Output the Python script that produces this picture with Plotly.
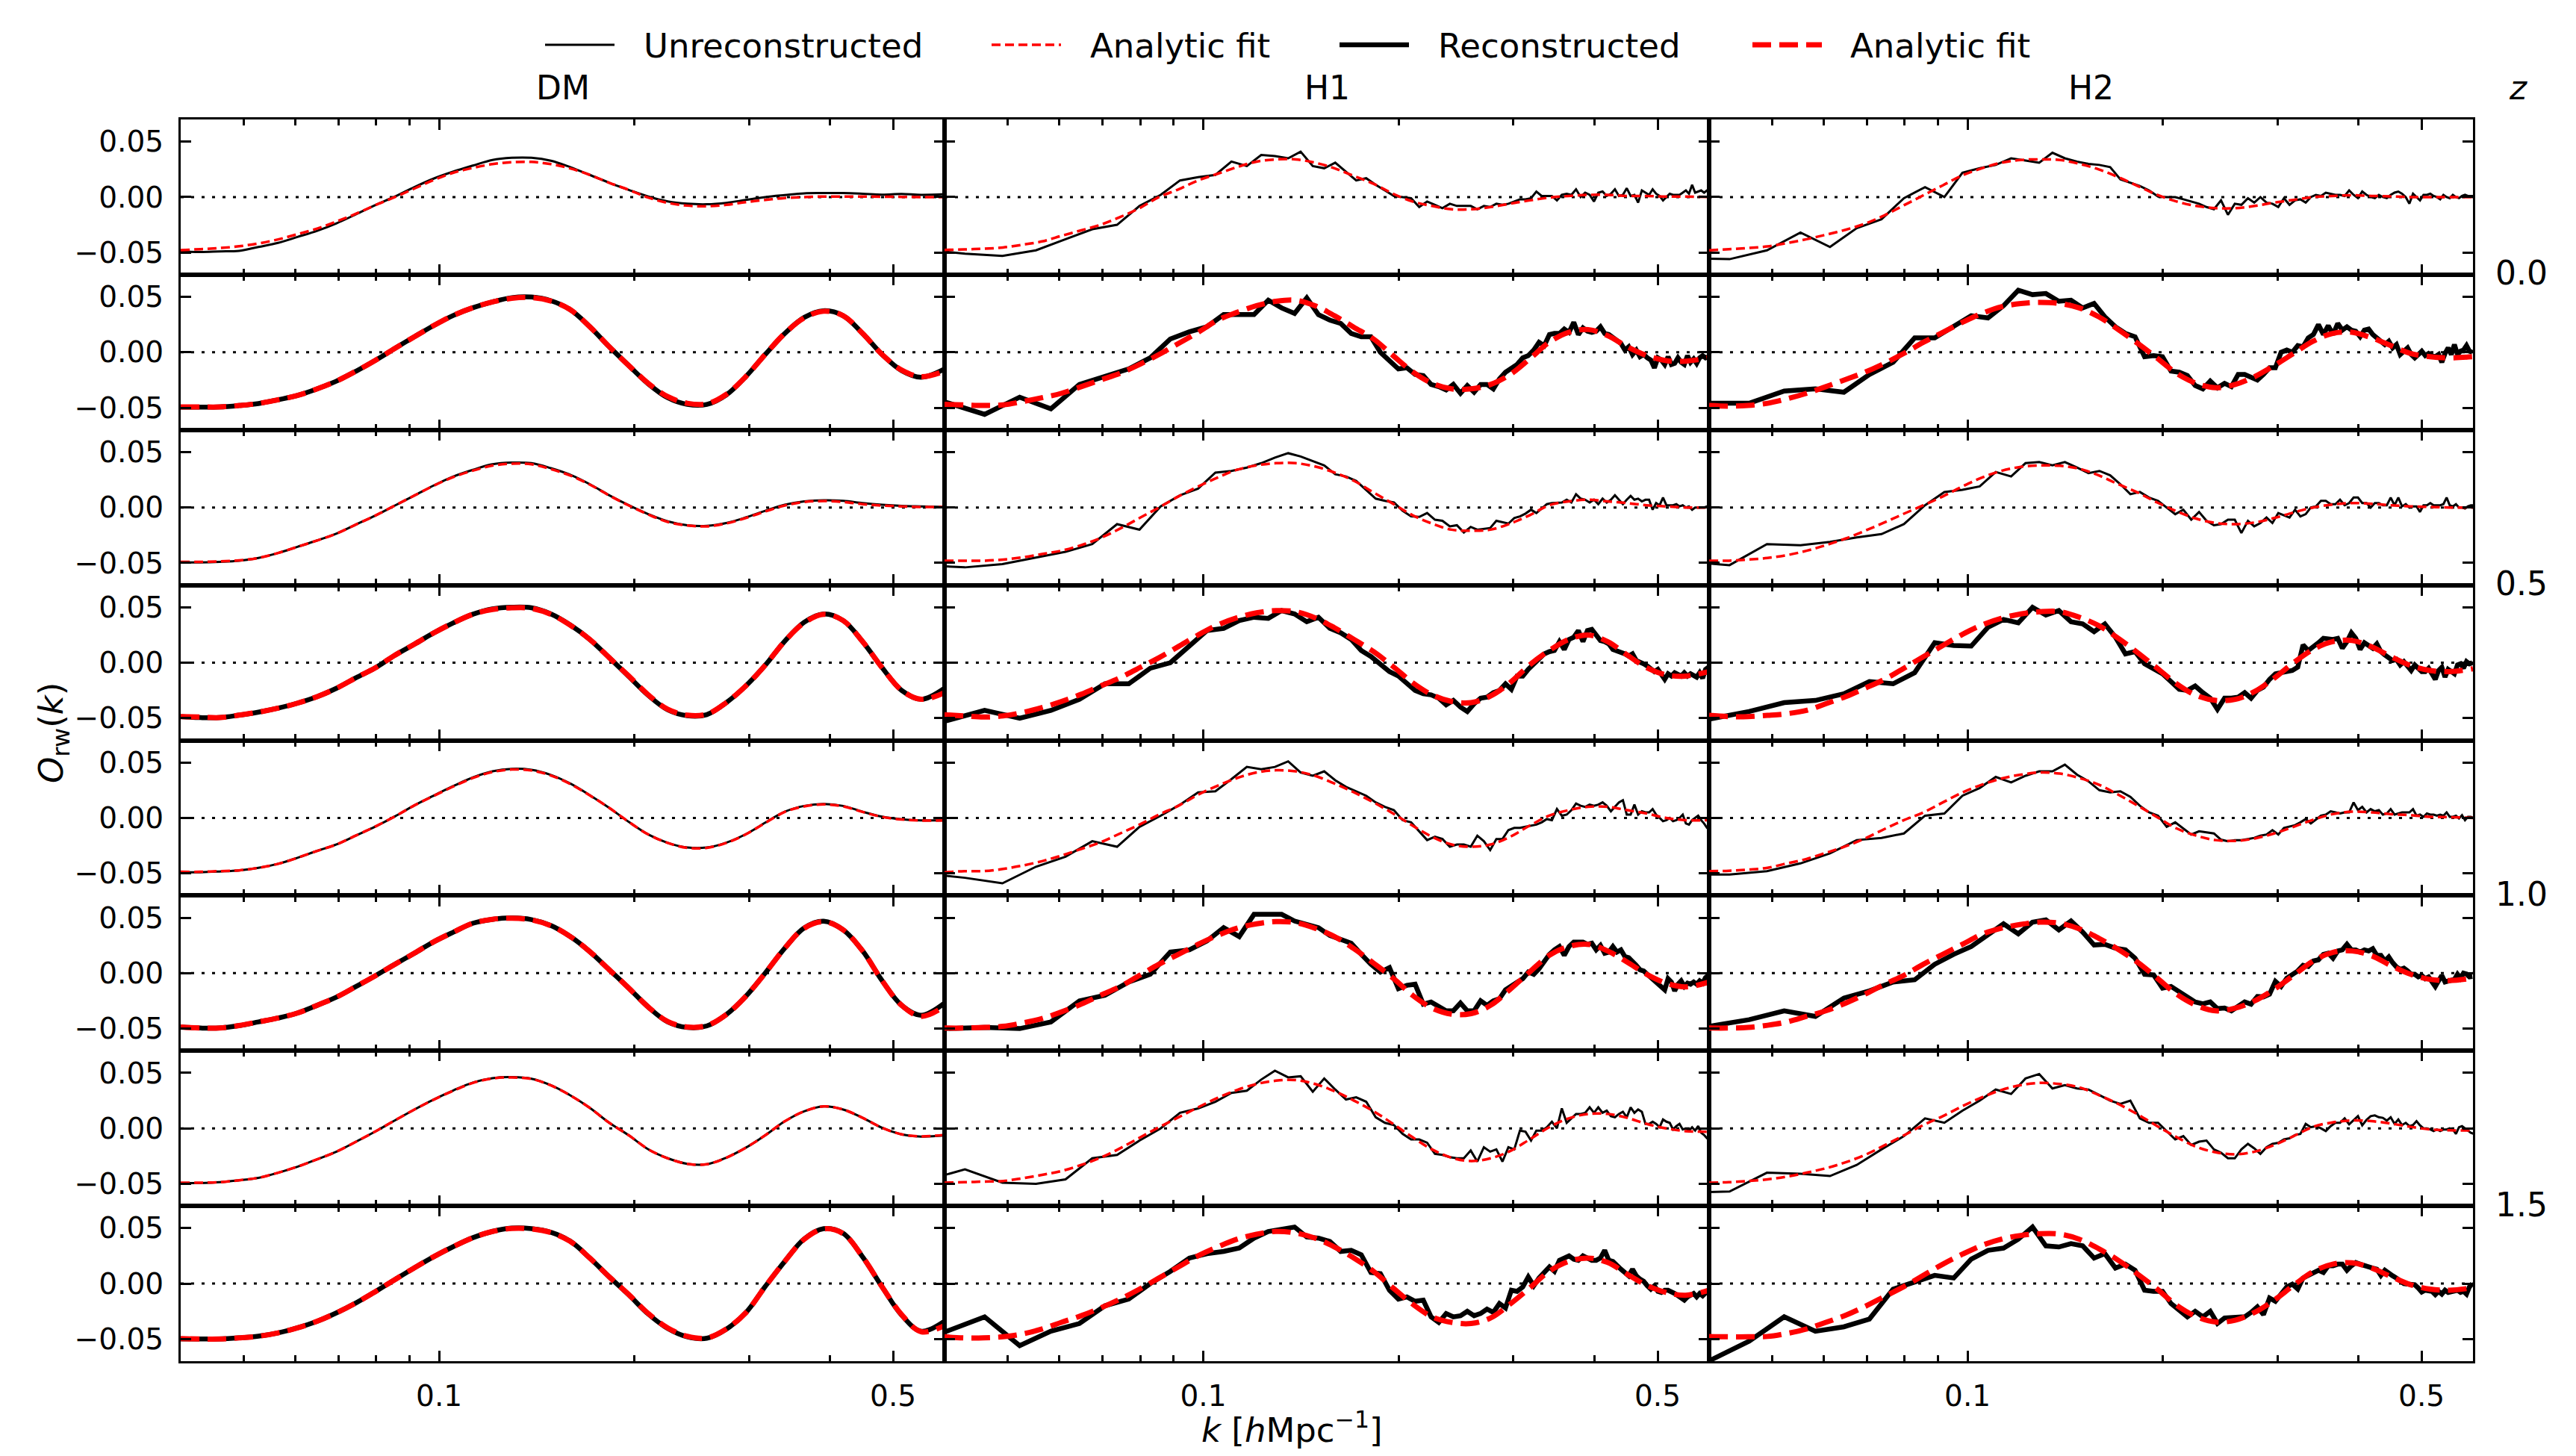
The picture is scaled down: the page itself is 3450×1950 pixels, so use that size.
import plotly.graph_objects as go
from plotly.subplots import make_subplots

# ---------------------------------------------------------------- text / ticks
COLUMNS = ["DM", "H1", "H2"]
Z_LABELS = ["0.0", "0.5", "1.0", "1.5"]
LEGEND_LABELS = ["Unreconstructed", "Analytic fit", "Reconstructed", "Analytic fit"]
X_TICKS = [0.1, 0.5]
X_TICK_TEXT = ["0.1", "0.5"]
X_MINOR = [0.05, 0.06, 0.07, 0.08, 0.09, 0.2, 0.3, 0.4]
Y_TICKS = [-0.05, 0.0, 0.05]
Y_TICK_TEXT = ["\u22120.05", "0.00", "0.05"]
K_RANGE = [0.04, 0.6]
O_RANGE = [-0.07, 0.07]

# ---------------------------------------------------------------- k grids (h/Mpc)
K_FIT = [0.0400, 0.0429, 0.0459, 0.0492, 0.0527, 0.0565, 0.0605, 0.0649, 0.0695, 0.0745,
         0.0798, 0.0855, 0.0916, 0.0982, 0.1052, 0.1127, 0.1208, 0.1294, 0.1387, 0.1486,
         0.1592, 0.1706, 0.1828, 0.1959, 0.2099, 0.2249, 0.2410, 0.2583, 0.2767, 0.2965,
         0.3177, 0.3405, 0.3648, 0.3909, 0.4189, 0.4488, 0.4809, 0.5153, 0.5522, 0.6000]

K_UNREC = [0.0368, 0.0430, 0.0491, 0.0553, 0.0614, 0.0675, 0.0737, 0.0798, 0.0860, 0.0921,
           0.0982, 0.1044, 0.1105, 0.1167, 0.1228, 0.1289, 0.1351, 0.1412, 0.1474, 0.1535,
           0.1596, 0.1658, 0.1719, 0.1781, 0.1842, 0.1903, 0.1965, 0.2026, 0.2088, 0.2149,
           0.2210, 0.2272, 0.2333, 0.2395, 0.2456, 0.2517, 0.2579, 0.2640, 0.2702, 0.2763,
           0.2824, 0.2886, 0.2947, 0.3009, 0.3070, 0.3131, 0.3193, 0.3254, 0.3316, 0.3377,
           0.3438, 0.3500, 0.3561, 0.3623, 0.3684, 0.3745, 0.3807, 0.3868, 0.3930, 0.3991,
           0.4052, 0.4114, 0.4175, 0.4237, 0.4298, 0.4359, 0.4421, 0.4482, 0.4544, 0.4605,
           0.4666, 0.4728, 0.4789, 0.4851, 0.4912, 0.4973, 0.5035, 0.5096, 0.5158, 0.5219,
           0.5280, 0.5342, 0.5403, 0.5465, 0.5526, 0.5587, 0.5649, 0.5710, 0.5772, 0.5833,
           0.5894, 0.5956, 0.6017]

K_REC = [0.0399, 0.0461, 0.0522, 0.0583, 0.0645, 0.0706, 0.0768, 0.0829, 0.0890, 0.0952,
         0.1013, 0.1075, 0.1136, 0.1197, 0.1259, 0.1320, 0.1382, 0.1443, 0.1504, 0.1566,
         0.1627, 0.1689, 0.1750, 0.1811, 0.1873, 0.1934, 0.1996, 0.2057, 0.2118, 0.2180,
         0.2241, 0.2303, 0.2364, 0.2425, 0.2487, 0.2548, 0.2610, 0.2671, 0.2732, 0.2794,
         0.2855, 0.2917, 0.2978, 0.3039, 0.3101, 0.3162, 0.3224, 0.3285, 0.3346, 0.3408,
         0.3469, 0.3531, 0.3592, 0.3653, 0.3715, 0.3776, 0.3838, 0.3899, 0.3960, 0.4022,
         0.4083, 0.4145, 0.4206, 0.4267, 0.4329, 0.4390, 0.4452, 0.4513, 0.4574, 0.4636,
         0.4697, 0.4759, 0.4820, 0.4881, 0.4943, 0.5004, 0.5066, 0.5127, 0.5188, 0.5250,
         0.5311, 0.5373, 0.5434, 0.5495, 0.5557, 0.5618, 0.5680, 0.5741, 0.5802, 0.5864,
         0.5925, 0.5987]

# ---------------------------------------------------------------- O_rw(k), in units of 1e-3
# ---- DM (sampled on K_FIT)
DM_Z0_UNREC = [-49, -49.5, -49, -48.5, -45, -41.3, -36, -30.4, -23.7, -15.5,
               -7.2, 0.5, 9, 16.8, 23, 28.4, 33.5, 35.4, 35.4, 32.8,
               27, 20, 12.9, 6.5, 0.5, -3.9, -6, -6.5, -5.2, -2.6,
               0, 1.8, 3.4, 3.6, 3.6, 3.0, 2.2, 2.8, 2.0, 2.6]
DM_Z0_UNREC_FIT = [-47.8, -47, -46, -44.4, -41.8, -38.2, -33.5, -28.4, -22, -15,
                   -7.2, 0, 7.7, 15.5, 22, 26.3, 29.7, 31.5, 31.7, 29.7,
                   25.8, 20, 12.9, 6.5, -0.5, -5.2, -7.7, -8.3, -7, -4.6,
                   -2.6, -0.8, 0, 0.5, 0.5, 0.5, 0.3, 0.2, 0, 0]
DM_Z0_REC = [-49.5, -49.5, -49.3, -48, -46.2, -42.8, -39, -33, -26, -17,
             -7.2, 3.6, 14, 24.3, 33.3, 40.2, 45.4, 49.3, 49.8, 46.5,
             38.4, 23, 5, -12, -28.5, -41, -47, -47, -38.5, -22,
             -2, 17, 31.5, 37.5, 33, 17, -2, -16.5, -22.5, -15]
DM_Z0_REC_FIT = [-49.3, -49.3, -49.3, -48, -46.2, -42.8, -39, -33, -26, -17,
                 -7.2, 3.6, 14, 24.3, 33.3, 40.2, 45.4, 48.7, 49.3, 46.2,
                 38.4, 23, 5, -12, -28, -40, -46, -46.5, -38, -22,
                 -2, 17, 31, 37, 33, 17, -2, -16, -22, -17]
DM_Z05_UNREC = [-49.5, -49.5, -49, -48, -45.5, -41, -35.5, -29.7, -23.5, -15.3,
                -7.2, 1.8, 10.8, 20, 28, 34, 39, 40.5, 40, 35.5,
                29.5, 21, 11, 2, -6, -12.5, -16, -16.5, -14, -9,
                -3, 2.5, 5.5, 6.5, 6, 4, 2.5, 1.5, 1, 0.5]
DM_Z05_UNREC_FIT = [-49, -49, -48.6, -47.7, -45.5, -41, -35.5, -29.7, -23.5, -15.3,
                    -7.2, 1.8, 10.8, 19.8, 27.5, 33.3, 37.8, 39.6, 39, 34.6,
                    28.8, 20.7, 10.8, 1.8, -6.3, -13, -16.2, -17, -14.4, -9.5,
                    -3.6, 1.8, 5, 5.8, 5, 3, 1.8, 1, 0.5, 0.5]
DM_Z05_REC = [-48.6, -49.5, -49.5, -47.3, -44.6, -41, -36.5, -30.6, -23, -13.5,
              -4.5, 6.8, 16.7, 27, 36, 43.7, 48.5, 50, 49.5, 44,
              34, 21, 4.5, -12.5, -29.5, -42.5, -47.8, -46.8, -36, -21,
              -2.3, 19.4, 36.5, 44, 38, 19, -4.5, -25, -33, -23]
DM_Z05_REC_FIT = [-48.6, -49, -49.5, -47.3, -44.6, -41, -36.5, -30.6, -23, -13.5,
                  -4.5, 6.8, 16.7, 27, 36, 43.7, 48, 49.5, 49, 43.7,
                  33.8, 21, 4.5, -12, -29, -42, -47.3, -46.4, -36, -21,
                  -2.3, 19.4, 36, 43.7, 38, 19, -4.5, -24.8, -33, -27]
DM_Z1_UNREC = [-49, -49, -48.3, -47.3, -45, -41.4, -36, -29.7, -23.9, -15.8,
               -7.7, 1.4, 11.3, 20.3, 28.8, 36.5, 42, 44.3, 43.4, 38.8,
               31, 20.5, 9, -3.6, -14.9, -22.5, -26.7, -26.7, -22.3, -14.7,
               -4.3, 5.6, 10.8, 12.6, 10.8, 5.6, 1.1, -1.2, -2.2, -2.2]
DM_Z1_UNREC_FIT = [-48.6, -48.6, -48, -47.3, -45, -41.4, -36, -29.7, -23.9, -15.8,
                   -7.7, 1.4, 11.3, 20, 28.4, 36, 41.4, 43.7, 42.8, 38.3,
                   30.6, 20.3, 9, -3.6, -14.9, -22.5, -27, -27, -22.5, -14.9,
                   -4.5, 5.4, 10.4, 12.2, 10.4, 5.4, 0.9, -1.4, -2.3, -2.3]
DM_Z1_REC = [-48.6, -49.5, -49.5, -47.3, -44, -40.5, -36, -29, -21.6, -12,
             -2.3, 8, 18, 28.4, 37, 45, 48.6, 49.8, 48.3, 43,
             33, 19.4, 3, -13.5, -30.6, -44, -49, -47.6, -37.4, -21,
             0, 22.5, 40.8, 46.8, 39, 20, -6.8, -29, -38, -27]
DM_Z1_REC_FIT = [-48.6, -49.5, -49.5, -47.3, -44, -40.5, -36, -29, -21.6, -12,
                 -2.3, 8, 18, 28.4, 37, 45, 48.6, 49.5, 48, 42.8,
                 33, 19.4, 3, -13.5, -30.6, -43.7, -48.6, -47.3, -37.4, -21,
                 0, 22.5, 40.5, 46.4, 39, 20, -6.8, -29, -39, -30]
DM_Z15_UNREC = [-49.3, -49.3, -48.6, -46.8, -44.6, -40, -34.6, -27.9, -21, -12,
                -2.7, 7.2, 17, 26.2, 34.3, 41.3, 45.3, 46.2, 44.8, 38.9,
                29.8, 18.5, 5, -6.3, -18.9, -27, -32, -32.4, -26.5, -17.5,
                -6.3, 6.3, 15.3, 19.8, 17, 9.5, 0.5, -5.4, -7.4, -6.5]
DM_Z15_UNREC_FIT = [-49, -49, -48.6, -46.8, -44.6, -40, -34.6, -27.9, -21, -12,
                    -2.7, 7.2, 17, 26, 34, 41, 45, 45.9, 44.6, 38.7,
                    29.7, 18.5, 5, -6.3, -18.9, -27, -32, -32.4, -26.5, -17.5,
                    -6.3, 6.3, 15.3, 19.8, 17, 9.5, 0.5, -5.4, -7.2, -5.8]
DM_Z15_REC = [-50, -50, -50, -49, -47.5, -44.5, -40, -34, -26.4, -17.4,
              -7.2, 3.6, 14.2, 24.4, 33.4, 41.4, 47, 50, 49.6, 46.3,
              38.2, 23, 6, -10.2, -27.5, -40.5, -48, -49.3, -41.2, -26.4,
              -2.7, 20, 40.3, 49.6, 45.3, 24, -3, -28.5, -43, -34]
DM_Z15_REC_FIT = [-49.7, -50, -50, -49, -47.5, -44.5, -40, -34, -26.4, -17.4,
                  -7.2, 3.6, 14.2, 24.4, 33.4, 41.4, 47, 49.7, 49.3, 46,
                  38, 23, 6, -10, -27, -40, -47.5, -49, -41, -26.4,
                  -2.7, 20, 40, 49.3, 45, 24, -3, -28, -43.4, -38]

# ---- H1 (simulation on K_UNREC / K_REC, fits on K_FIT)
H1_Z0_UNREC = [-47, -51, -53, -48, -38, -29, -25, -8, 2, 15,
               18, 20, 32, 28, 38, 37, 35, 41, 28, 26,
               31, 23, 15, 17, 11, 6, 1, 0, -1, -9,
               -4, -7, -10, -6, -8, -8, -8, -11, -8, -9,
               -6, -7, -6, -4, -2, -2, -1, 5, 1, 1,
               1, -3, 2, 3, 2, 7, 0, 4, 2, -4,
               4, 5, 1, 3, 7, 1, 2, 8, 1, 2,
               -5, 6, 4, 2, 7, 3, 1, -3, 0, 3,
               2, 2, 2, 4, 6, 3, 11, 4, 5, 6,
               4, 6, 5]
H1_Z0_UNREC_FIT = [-47.7, -47.2, -46.6, -45.5, -43, -40, -35, -30, -25, -18,
                   -10, 0, 7, 15, 21, 27, 32, 34, 34, 31,
                   26, 19, 12, 3, -4, -8, -11, -11, -9, -6,
                   -3, -0.5, 1, 2, 2, 1, 1, 0.5, 0.5, 0]
H1_Z0_REC = [-44.5, -56, -40.5, -51, -29, -22, -15, -5, 12, 18.5,
             23, 34, 34, 34, 47, 40, 35, 49, 34, 29,
             26, 17, 14, 14, 0, -7, -15, -14, -20, -21,
             -29, -31, -34, -29, -37, -30, -36, -29, -29, -33,
             -24, -18, -14, -11, -5, -3, 2, 9, 6, 16,
             17, 17, 21, 18, 27, 16, 22, 19, 18, 19,
             23, 17, 16, 13, 11, 8, 2, 5, -2, 2,
             -4, -2, -5, -7, -14, -5, -7, -11, -4, -11,
             -10, -5, -9, -11, -3, -9, -6, -10, -5, -3,
             -5, -4]
H1_Z0_REC_FIT = [-47, -47.5, -48, -47.5, -44.5, -41, -37, -31, -25, -19,
                 -11, -2, 8, 18, 29, 36, 42, 46, 47, 42,
                 33, 22.5, 12, -3, -17.5, -28, -33, -33, -29, -20,
                 -6, 9, 18, 20.5, 15, 5, -3, -7.5, -8, -5]
H1_Z05_UNREC = [-52, -54, -51, -45, -40, -33, -15, -20, 1, 11,
                17, 31.5, 33, 36, 40, 45, 49, 46, 42, 38,
                30, 28, 24, 16, 8, 6, 4.5, -3, -8, -8.5,
                -5, -11, -12, -17, -16, -22.5, -17.5, -20, -19, -18.5,
                -12, -13.5, -14.5, -9.5, -8, -5.5, -2, -5, -1, 3,
                4, 4, 4.5, 7, 4.5, 12, 8, 7, 4.5, 7,
                3, 8, 4.5, 7, 11, 7, 3, 7, 10.5, 7,
                8, 5.5, 7, 7, -2, 4, 2, 9, 2, 2,
                2, 3, 1, 2, 0, 1, -2, 0, 0, 0,
                0, 1, 1]
H1_Z05_UNREC_FIT = [-48, -48, -48, -47, -45, -42, -39, -34, -27.5, -19,
                    -9.5, 0, 10, 19, 27, 34, 38, 40, 40, 37,
                    31.5, 24, 13.5, 3.4, -7, -14.5, -20, -21, -20, -14.5,
                    -7, 2, 5.5, 7, 5.5, 4, 2, 1, 0, 0]
H1_Z05_REC = [-53, -43, -50, -43, -33, -19, -19, -5, 0, 14.6,
              29, 31, 38, 41, 40, 47, 44, 37, 41, 31,
              27, 21, 11, 5.6, -1, -8, -12, -18, -25, -28,
              -29, -32, -38, -34, -40, -44, -37, -32, -31, -27,
              -25, -19, -24, -12, -12, -6, -1, 3, 8, 10,
              11, 19, 12, 21, 23, 29, 19, 29, 30, 25,
              20, 19, 17, 12, 11, 9, 8, 6, 8, 2,
              1, -1, -3, -5, -8, -6, -11, -15, -10, -12,
              -9, -11, -12, -9, -12, -10, -11, -13, -9, -14,
              -6, -4]
H1_Z05_REC_FIT = [-47, -48, -49, -48, -45, -40.5, -35, -28.5, -21, -13.5,
                  -4.5, 4.5, 14.6, 25, 34, 40.5, 45, 47, 46, 40.5,
                  31.5, 21, 10, -3.4, -18, -29, -35, -36, -30, -18,
                  -2, 11, 21, 25, 19, 7, -4.5, -11, -12, -8]
H1_Z1_UNREC = [-50, -54, -59, -44, -35, -21, -26, -8, 2, 12,
               23, 24, 35, 46, 44, 46, 51, 41, 38, 42,
               34, 28, 24, 20, 14, 10, 7, -2, -4, -12,
               -20, -17, -19, -26, -24, -24, -26, -16, -21, -29,
               -19, -19, -11, -9, -9, -8, -7, -6, -4, -1,
               -2, 8, 2, 3, 7, 13, 11, 10, 12, 11,
               12, 14, 11, 6, 10, 14, 16, 3, 3, 12,
               3, 6, 5, 5, 8, 3, 0, -3, -2, 0,
               -3, -2, 0, 3, -5, -6, -2, 0, 2, -2,
               -5, -9, -9]
H1_Z1_UNREC_FIT = [-49, -48, -48, -46, -43, -39, -34, -28, -22, -14,
                   -6, 3, 11, 21, 29, 36, 41, 43, 42, 38,
                   31, 23, 14, 4, -7, -17, -24, -26, -24, -17,
                   -7, 2, 7, 10, 10, 7, 4, 0, -2, -2]
H1_Z1_REC = [-50, -49, -50, -44, -25, -20, -8, -1, 19, 21,
             29, 41, 33, 53, 53, 53, 47, 44, 41, 34,
             30, 27, 17, 8, 1, 5, -14, -11, -10, -28,
             -26, -30, -34, -34, -27, -34, -34, -25, -29, -25,
             -23, -15, -12, -9, -5, 1, -1, 4, 11, 17,
             21, 24, 16, 24, 28, 28, 28, 26, 27, 21,
             25, 18, 19, 24, 19, 21, 15, 14, 11, 7,
             3, 2, -1, -4, -7, -10, -12, -15, -5, -8,
             -16, -10, -7, -12, -9, -10, -8, -10, -7, -9,
             -4, -2]
H1_Z1_REC_FIT = [-49.5, -49.5, -49, -48, -45, -41, -35, -28, -20, -12,
                 -2, 8, 17, 26, 34, 40.5, 44.5, 46.5, 45.5, 40.5,
                 33, 22, 9, -4.5, -20, -31.5, -37, -36.5, -29, -14.6,
                 1, 16, 24, 26, 20, 10, -1, -9, -12.4, -8]
H1_Z15_UNREC = [-48, -37, -49, -50, -46, -27, -24, -11, 0, 14,
                18, 24, 32, 34, 44, 52, 46, 47, 33, 45,
                35, 26, 28, 24, 10, 5, 3, -5, -10, -10,
                -13, -23, -24, -26, -27, -27, -20, -30, -17, -21,
                -19, -30, -17, -19, -2, -3, -11, -2, -2, 1,
                6, 0, 18, 5, 9, 13, 13, 14, 19, 14,
                19, 14, 16, 11, 10, 13, 15, 10, 19, 14,
                17, 15, 4, 4, 6, 4, 1, 8, 6, 5,
                -1, 2, 4, -1, 0, -2, 1, -2, 2, -4,
                -6, -9, -9]
H1_Z15_UNREC_FIT = [-49, -48.6, -48, -47.5, -45, -42, -38.5, -33, -26.5, -18,
                    -8.5, 1, 10, 19, 27.5, 34.6, 40, 43, 43.6, 40,
                    33.5, 25, 15.5, 4, -8, -19, -26.5, -29.5, -27, -20.5,
                    -10, 1, 9, 13, 13, 9.5, 4, 0, -2.5, -3]
H1_Z15_REC = [-44, -30, -56, -43, -36, -20, -14, 0, 11, 23,
              27, 29, 32, 41, 47, 49, 51, 42, 41, 38,
              29, 30, 26, 10, 9, -6, -14, -12, -16, -15,
              -30, -35, -27, -30, -29, -25, -29, -27, -23, -26,
              -18, -22, -6, -7, -3, 6, -2, 5, 10, 15,
              11, 21, 23, 25, 22, 21, 25, 23, 21, 21,
              23, 30, 21, 20, 16, 13, 10, 7, 13, 7,
              4, 2, -2, -5, -2, -7, -8, -6, -6, -7,
              -9, -11, -13, -15, -12, -11, -9, -12, -9, -11,
              -8, -6]
H1_Z15_REC_FIT = [-48, -49, -49, -48, -45.5, -41, -35, -29, -22, -14,
                  -5, 5, 15, 25, 33, 40, 44.5, 47, 45.6, 41,
                  33, 23, 11, -4, -18.5, -30, -35, -36, -31, -18.5,
                  -4, 11, 20, 23, 19, 8.5, -1.5, -8, -10.5, -6]

# ---- H2
H2_Z0_UNREC = [-55, -56, -48, -32, -45, -28, -20, -1, 9, 0,
               22, 26, 29, 35, 33, 31, 40, 35, 32, 30,
               29, 27, 16, 13, 10, 6, 0.5, 0, 0, -2,
               -4, -6, -9, -11, -3, -16, -6, -7, -1, -5,
               0, -5, -6, -9, -1, -7, -3, -2, -5, 0,
               2, 1, 4, 3, 2, 2, 1, 6, 2, -1,
               5, 2, 0, -1, 2, 0, -1, 2, 4, 5,
               3, 0, -6, 3, 0, -3, 2, 2, 3, 1,
               0, -2, 2, 0, -1, 2, 0, -1, 1, 2,
               1, 1, 1]
H2_Z0_UNREC_FIT = [-48, -47, -46, -44.5, -41.5, -38, -34, -29.5, -24, -16.4,
                   -7.4, 1.6, 10.6, 19.6, 26, 31, 33.5, 34, 33.5, 30,
                   25, 18, 10, 2, -4, -8, -10, -10, -8, -5,
                   -2.5, 0, 1, 1.6, 1, 0.7, 0, 0, 0, 0]
H2_Z0_REC = [-46, -46, -35, -33, -36, -20, -9, 13, 13, 23,
             33, 31, 42, 56, 52, 53, 46, 47, 40, 44,
             32, 23, 17, 14, -4, -3, -4, -17, -18, -21,
             -30, -33, -26, -32, -28, -31, -20, -20, -23, -25,
             -20, -14, -14, 0, 2, 0, 6, 5, 13, 16,
             25, 16, 24, 16, 26, 20, 23, 20, 19, 14,
             20, 21, 16, 13, 9, 7, 10, 4, 7, -2,
             1, 4, -2, -5, -2, 1, -3, -1, -3, -4,
             -2, -9, -1, 4, -2, 7, -2, 1, 2, 6,
             1, 0]
H2_Z0_REC_FIT = [-48, -48.6, -48, -46, -42, -37, -31, -24.5, -18, -10,
                 -1, 9, 18, 27, 35, 41, 44, 45, 44, 40,
                 32, 20.5, 8, -5.4, -19, -28, -32, -29, -22, -12,
                 -1, 10, 17, 18, 13, 6, -1, -4, -5, -4]
H2_Z05_UNREC = [-49, -52, -33, -34, -31, -27, -24, -15, 2, 14,
                16, 19, 32, 28, 40, 41, 38, 41, 36, 31,
                33, 29, 21, 12, 14, 9, 6, 0, -6, -2,
                -11, -4, -12, -16, -15, -11, -11, -23, -12, -17,
                -14, -9, -14, -5, -7, -9, -2, -8, -6, 0,
                1, 6, 6, 3, 3, 7, 2, 4, 9, 9,
                4, 4, 0, 4, 4, 2, 2, 9, 2, 9,
                1, 3, 0, 1, 1, -4, 2, 2, 4, 2,
                2, 2, 3, 9, 2, 1, 3, 0, 0, -1,
                1, 2, 2]
H2_Z05_UNREC_FIT = [-48, -48, -47, -45.5, -43, -39, -34, -28, -21, -13.5,
                    -5.6, 2, 10, 19, 27, 33, 36.7, 38, 37.6, 35,
                    29, 21, 13.5, 4.5, -3.4, -10, -14, -15, -13.5, -9.5,
                    -4.5, 0, 2.7, 4, 3.4, 2, 1, 0.5, 0, 0]
H2_Z05_REC = [-51, -44, -36, -34, -28, -17, -19, -9, 18, 15.5,
              15, 32, 39, 36, 50, 43, 47, 37, 35, 28,
              35, 23, 8, 10, -1, -6, -10, -17, -24, -25,
              -21, -27, -32, -42, -32, -32, -31, -27, -32, -25,
              -22, -15, -10, -9, -8, -7, -4, 16, 11, 14,
              18, 22, 21, 21, 22, 13, 19, 27, 22, 12,
              18, 15, 13, 17, 10, 7, 5, 2, 3, -2,
              1, -4, -7, -2, -5, -8, -8, -5, -10, -15,
              -7, -4, -13, -6, -8, -10, -2, -1, -5, 1,
              -1, 0]
H2_Z05_REC_FIT = [-47.5, -48.6, -48.6, -47.5, -46, -43, -37, -30.6, -23, -15,
                  -5, 5.4, 15.5, 25.6, 34, 40, 44, 46, 46, 41,
                  33.5, 22, 9, -5, -19, -29.5, -34, -33, -26, -14,
                  0, 12, 19, 20, 14.4, 5.4, -2.5, -7, -8, -5.4]
H2_Z1_UNREC = [-51, -51, -48, -41, -32, -20, -18, -14, 2, 4,
               20, 27, 37, 32, 38, 42, 42, 48, 39, 33,
               25, 23, 24, 19, 11, 5, 2, -8, -4, -9.5,
               -15, -12, -13, -14, -19.6, -21, -20, -20, -19, -18,
               -16, -15, -11, -15, -9, -8, -6.5, -4, -1, -5,
               -1.6, 2, 3, 6, 5, 4, 5, 5, 14, 7,
               10, 5, 8, 6, 7, 3, 4, 8, 3, 4,
               5, 5, 5, 8, 2, 3, 1, 4, 3, 3,
               2, 3, 2, 5, 1, 1, 2, -0.5, 2.5, -2,
               1, 1, 0]
H2_Z1_UNREC_FIT = [-48, -47.7, -46.6, -45, -41, -37, -31.5, -25.6, -18.5, -10,
                   -2, 5, 14, 23, 30, 35.5, 39, 41, 40, 36,
                   30, 21, 11, 0.7, -9.5, -16, -20, -20.7, -18.5, -14,
                   -8, -1.6, 3.4, 5.6, 5, 3.4, 2.5, 1, 0.7, 0]
H2_Z1_REC = [-48, -42, -34, -39, -22.5, -16, -8, -6, 8, 17,
             24, 35, 44.5, 35.5, 46, 48, 39, 47, 37, 25.4,
             26, 22.5, 21, 13.5, -1, -1.6, -13.5, -12, -17, -21,
             -26, -27.7, -26, -32, -31.5, -34, -30, -26, -28, -21,
             -21.4, -19, -7.4, -12, -4.5, -1, 2, 7, 6, 11,
             12, 17, 18, 13.5, 20, 21, 26, 21, 21, 19,
             21, 20, 22, 16, 16, 11, 14.6, 9.5, 5.6, 3.4,
             4.5, 2, -1, -1, -3.4, -2, -5, -3.4, -7, -12,
             -7, -2, -8, -7, -7, -5.6, -1, -4.5, 0, -0.7,
             -3.4, -3]
H2_Z1_REC_FIT = [-49.5, -49.5, -49, -47, -44, -39, -34, -27, -19, -10,
                 -2, 8, 17, 26, 35, 40.5, 44, 46, 45, 40,
                 31.5, 21.4, 9.7, -4.5, -19, -29, -34, -31.5, -25, -14.6,
                 -2, 11, 18.7, 20, 15.7, 6.7, -1, -5.6, -6.7, -4.5]
H2_Z15_UNREC = [-58, -57, -40, -41, -43, -33, -19, -7, 9, 5,
                16, 25, 35, 31, 45, 49, 36, 39, 36, 35,
                30, 25, 22, 25, 9, 5, 5, -2.5, -10, -7,
                -15, -12, -11, -19, -22, -27, -27, -19, -14, -18,
                -23, -17, -14, -13, -10, -9, -6, -5, 4, 1,
                2, 0, -2.5, 2, 5, 5, 9, 3.6, 7.6, 11,
                2.7, 7.6, 11, 11.7, 10, 9.5, 7, 10, 4, 8,
                3, 5, 2, 3, 6.5, 2.7, 0, 0, -1, -2.5,
                -1, -2.5, -1, -1, 0, -1, -5, 1, 2, 0,
                -2, -4, -5]
H2_Z15_UNREC_FIT = [-49, -48.6, -47.5, -46, -43.6, -40, -36, -30.6, -24, -15.3,
                    -6.3, 3, 11, 20, 28, 34.6, 39, 41, 40, 37,
                    30, 22, 12.6, 2, -8, -16.6, -21.6, -23.4, -21, -15,
                    -7, 1.4, 5.4, 7.2, 6.5, 4.3, 1.4, -1, -1.8, -1.8]
H2_Z15_REC = [-70, -52, -30, -43, -39, -32, -5, 2, 7.4, 5,
              22, 30, 32, 40, 51, 34, 33, 36, 34, 23,
              27, 14, 17.5, 12, -6, -7, -7, -18, -24, -30,
              -25, -30, -25, -36, -31, -31, -31, -30, -26, -21,
              -28, -13, -16, -9, -3, -0.5, -5, 5, 7, 9.5,
              12, 10, 16, 16, 17.5, 17.5, 12, 16, 19, 17.5,
              16, 15, 14, 13, 7.4, 12, 9, 7, 5, 3,
              0, -0.5, -1, -1, -4, -7.6, -6, -6, -7, -10,
              -7, -9.5, -6, -8, -7, -6, -6, -8, -7, -9.5,
              -3, 0]
H2_Z15_REC_FIT = [-47.7, -48, -48, -47.7, -45, -41, -35, -28.6, -20.7, -11.7,
                  -2.7, 7.4, 17.5, 26.5, 34.4, 40, 43.4, 45, 44.6, 40,
                  31.5, 21, 8.5, -5, -19.6, -29.7, -34.6, -33, -26, -15,
                  -1.6, 10.8, 17.5, 18.7, 14, 6.3, -1, -5, -6, -3.8]

UNIT = 1e-3  # the value lists above are in units of 1e-3

# (k of simulation curve, simulation curve, analytic fit) per panel: rows top->bottom, cols DM/H1/H2
PANELS = [
    [(K_FIT, DM_Z0_UNREC, DM_Z0_UNREC_FIT), (K_UNREC, H1_Z0_UNREC, H1_Z0_UNREC_FIT), (K_UNREC, H2_Z0_UNREC, H2_Z0_UNREC_FIT)],
    [(K_FIT, DM_Z0_REC, DM_Z0_REC_FIT), (K_REC, H1_Z0_REC, H1_Z0_REC_FIT), (K_REC, H2_Z0_REC, H2_Z0_REC_FIT)],
    [(K_FIT, DM_Z05_UNREC, DM_Z05_UNREC_FIT), (K_UNREC, H1_Z05_UNREC, H1_Z05_UNREC_FIT), (K_UNREC, H2_Z05_UNREC, H2_Z05_UNREC_FIT)],
    [(K_FIT, DM_Z05_REC, DM_Z05_REC_FIT), (K_REC, H1_Z05_REC, H1_Z05_REC_FIT), (K_REC, H2_Z05_REC, H2_Z05_REC_FIT)],
    [(K_FIT, DM_Z1_UNREC, DM_Z1_UNREC_FIT), (K_UNREC, H1_Z1_UNREC, H1_Z1_UNREC_FIT), (K_UNREC, H2_Z1_UNREC, H2_Z1_UNREC_FIT)],
    [(K_FIT, DM_Z1_REC, DM_Z1_REC_FIT), (K_REC, H1_Z1_REC, H1_Z1_REC_FIT), (K_REC, H2_Z1_REC, H2_Z1_REC_FIT)],
    [(K_FIT, DM_Z15_UNREC, DM_Z15_UNREC_FIT), (K_UNREC, H1_Z15_UNREC, H1_Z15_UNREC_FIT), (K_UNREC, H2_Z15_UNREC, H2_Z15_UNREC_FIT)],
    [(K_FIT, DM_Z15_REC, DM_Z15_REC_FIT), (K_REC, H1_Z15_REC, H1_Z15_REC_FIT), (K_REC, H2_Z15_REC, H2_Z15_REC_FIT)],
]

# ---------------------------------------------------------------- geometry / style
W, H = 3450, 1950
X_EDGES = [242, 1265, 2289, 3312]
Y_TOP, Y_BOT = 160, 1823
NROWS, NCOLS = 8, 3
ROW_H = (Y_BOT - Y_TOP) / NROWS
FONT = "DejaVu Sans"

SIM_THIN = dict(color="black", width=3.0)
SIM_THICK = dict(color="black", width=6.5)
FIT_THIN = dict(color="red", width=3.5, dash="12px,6px")
FIT_THICK = dict(color="red", width=7, dash="25px,11px")


def px_x(x):
    return x / W


def px_y(y):
    return 1 - y / H


fig = make_subplots(rows=NROWS, cols=NCOLS, horizontal_spacing=0, vertical_spacing=0)

shapes = []
for r in range(NROWS):
    rec = (r % 2 == 1)
    for c in range(NCOLS):
        ksim, sim, fit = PANELS[r][c]
        sim_line = dict(SIM_THICK if rec else SIM_THIN)
        sim_line["shape"] = "spline" if c == 0 else "linear"
        fit_line = dict(FIT_THICK if rec else FIT_THIN)
        fit_line["shape"] = "spline"
        fig.add_trace(go.Scatter(x=ksim, y=[v * UNIT for v in sim], mode="lines", line=sim_line,
                                 hoverinfo="skip", showlegend=False), row=r + 1, col=c + 1)
        fig.add_trace(go.Scatter(x=K_FIT, y=[v * UNIT for v in fit], mode="lines", line=fit_line,
                                 hoverinfo="skip", showlegend=False), row=r + 1, col=c + 1)

        idx = r * NCOLS + c + 1
        sfx = "" if idx == 1 else str(idx)
        top = Y_TOP + r * ROW_H
        bot = top + ROW_H
        fig.layout["xaxis" + sfx].update(
            type="log", range=[-1.39794, -0.221849],
            domain=[px_x(X_EDGES[c]), px_x(X_EDGES[c + 1])],
            tickvals=X_TICKS, ticktext=X_TICK_TEXT,
            showticklabels=(r == NROWS - 1),
            ticks="inside", ticklen=14, tickwidth=3.3, tickcolor="black",
            minor=dict(tickvals=X_MINOR, ticks="inside", ticklen=8, tickwidth=2.5,
                       tickcolor="black", showgrid=False),
            showline=True, linewidth=3.3, linecolor="black", mirror="ticks",
            showgrid=False, zeroline=False,
            tickfont=dict(family=FONT, size=39, color="black"),
            ticklabelstandoff=10,
        )
        fig.layout["yaxis" + sfx].update(
            range=O_RANGE,
            domain=[px_y(bot), px_y(top)],
            tickvals=Y_TICKS, ticktext=Y_TICK_TEXT,
            showticklabels=(c == 0),
            ticks="inside", ticklen=14, tickwidth=3.3, tickcolor="black",
            showline=True, linewidth=3.3, linecolor="black", mirror="ticks",
            showgrid=False, zeroline=False,
            tickfont=dict(family=FONT, size=39, color="black"),
            ticklabelstandoff=12,
        )
        shapes.append(dict(type="line", xref="x%s domain" % sfx, yref="y%s" % sfx,
                           x0=0, x1=1, y0=0, y1=0, layer="below",
                           line=dict(color="black", width=3, dash="4px,10px")))

annotations = []
# column titles
for c, name in enumerate(COLUMNS):
    annotations.append(dict(text=name, x=px_x((X_EDGES[c] + X_EDGES[c + 1]) / 2), y=px_y(118),
                            xref="paper", yref="paper", showarrow=False,
                            xanchor="center", yanchor="middle",
                            font=dict(family=FONT, size=44, color="black")))
annotations.append(dict(text="<i>z</i>", x=px_x(3372), y=px_y(118), xref="paper", yref="paper",
                        showarrow=False, xanchor="center", yanchor="middle",
                        font=dict(family=FONT, size=44, color="black")))
for i, zl in enumerate(Z_LABELS):
    yb = Y_TOP + (2 * i + 1) * ROW_H
    annotations.append(dict(text=zl, x=px_x(3340), y=px_y(yb - 2), xref="paper", yref="paper",
                            showarrow=False, xanchor="left", yanchor="middle",
                            font=dict(family=FONT, size=44, color="black")))
# axis titles
annotations.append(dict(text="<i>k</i> [<i>h</i>Mpc<sup>\u22121</sup>]", x=px_x(1730), y=px_y(1912),
                        xref="paper", yref="paper", showarrow=False, xanchor="center", yanchor="middle",
                        font=dict(family=FONT, size=45, color="black")))
annotations.append(dict(text="<i>O</i><sub>rw</sub>(<i>k</i>)", x=px_x(71), y=px_y(982),
                        xref="paper", yref="paper", showarrow=False, xanchor="center", yanchor="middle",
                        textangle=-90, font=dict(family=FONT, size=45, color="black")))

# legend (drawn by hand to match the reference layout)
LEG_Y = 60
LEG_ITEMS = [(730, 823, 860, SIM_THIN), (1328, 1421, 1458, FIT_THIN),
             (1794, 1887, 1924, SIM_THICK), (2347, 2440, 2476, FIT_THICK)]
for (x0, x1, xt, st), label in zip(LEG_ITEMS, LEGEND_LABELS):
    shapes.append(dict(type="line", xref="paper", yref="paper", x0=px_x(x0), x1=px_x(x1),
                       y0=px_y(LEG_Y), y1=px_y(LEG_Y), line=dict(st)))
    annotations.append(dict(text=label, x=px_x(xt), y=px_y(LEG_Y + 1), xref="paper", yref="paper",
                            showarrow=False, xanchor="left", yanchor="middle",
                            font=dict(family=FONT, size=45, color="black")))

fig.update_layout(width=W, height=H, autosize=False,
                  margin=dict(l=0, r=0, t=0, b=0, pad=0),
                  paper_bgcolor="white", plot_bgcolor="white",
                  showlegend=False, shapes=shapes, annotations=annotations,
                  font=dict(family=FONT, color="black"))

fig.write_html("out.html", config={"displayModeBar": False},
               post_script="document.body.style.margin='0';document.body.style.overflow='hidden';")
